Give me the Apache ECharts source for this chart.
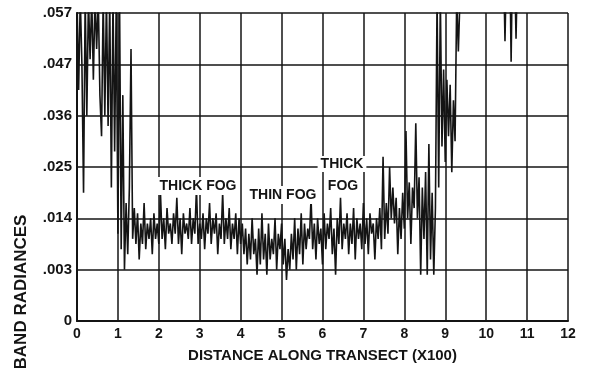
<!DOCTYPE html>
<html>
<head>
<meta charset="utf-8">
<script src="https://cdn.jsdelivr.net/npm/echarts@6/dist/echarts.min.js"></script>
<style>
  html, body { margin: 0; padding: 0; background: #fff; }
  #chart { width: 591px; height: 368px; }
</style>
</head>
<body>
<div id="chart"></div>
<script>
// y axis is drawn in equal bands, one per printed tick label
const yTickLabels = ['0', '.003', '.014', '.025', '.036', '.047', '.057'];
const xTickLabels = ['0', '1', '2', '3', '4', '5', '6', '7', '8', '9', '10', '11', '12'];

// trace sampled every 0.04 along x (hundreds), values in y-axis band units
const STEP = 0.04;
// clear air, off scale at the top
const clearStart = 0.0;
const clearVals = [6.3, 4.5, 6.3, 5.0, 2.5, 6.3, 4.0, 6.3, 5.1, 6.3, 4.7, 6.3,
  5.3, 6.3, 4.4, 3.6, 6.3, 4.0, 6.3, 3.8, 6.3, 2.6, 6.3];
// edge of the fog bank
const edgeStart = 0.92;
const edgeVals = [3.3, 6.3, 1.7, 6.3, 1.4, 4.4, 1.0, 2.3, 1.3, 2.6, 5.3, 1.6, 2.2];
// thick fog
const thickStart = 1.44;
const thickVals = [
  1.5, 2.1, 1.2, 1.9, 1.5, 2.3, 1.4, 1.9,
  1.6, 2.0, 1.3, 2.1, 1.6, 1.9, 1.5, 2.5,
  1.6, 2.0, 1.4, 2.2, 1.7, 1.9, 1.5, 2.1,
  1.7, 2.4, 1.5, 2.0, 1.3, 2.1, 1.7, 1.9,
  1.6, 2.2, 1.5, 2.0, 1.7, 2.6, 1.5, 1.9,
  1.6, 2.1, 1.4, 2.0, 1.7, 2.3, 1.5, 2.0,
  1.7, 2.1, 1.3, 1.9, 1.6, 2.5, 1.5, 2.0,
  1.6, 2.2, 1.4, 1.9, 1.6, 2.1, 1.3, 2.0];
// thin fog
const thinStart = 4.0;
const thinVals = [
  1.5, 1.9, 1.3, 1.8, 1.1, 1.7, 1.2, 2.0,
  1.3, 1.6, 0.9, 1.8, 1.1, 2.1, 1.2, 1.7,
  0.9, 1.9, 1.2, 1.6, 1.3, 2.0, 1.0, 1.7,
  1.4, 1.9, 1.1, 1.6, 0.8, 1.4, 1.0, 1.7,
  1.2, 2.0, 1.0, 1.8, 1.3, 2.1, 1.1, 1.9,
  1.4, 1.8, 1.6];
// thick fog again
const thick2Start = 5.72;
const thick2Vals = [
  2.4, 1.4, 1.9, 1.2, 2.0, 1.5, 1.8, 1.1,
  2.1, 1.4, 1.9, 1.6, 2.2, 1.3, 1.8, 0.9,
  2.0, 1.5, 2.4, 1.4, 1.9, 1.6, 2.1, 1.3,
  1.9, 1.5, 2.2, 1.2, 2.0, 1.6, 1.9, 1.4,
  2.3, 1.5, 2.0, 1.3, 2.1, 1.7, 1.9, 1.2,
  2.0, 1.6, 2.2, 1.4, 3.2];
// broken fog
const brokenStart = 7.52;
const brokenVals = [
  1.6, 2.3, 1.7, 3.0, 2.0, 2.6, 1.9, 2.4,
  1.3, 2.2, 1.6, 2.5, 1.8, 3.7, 2.0, 2.7,
  1.5, 2.6, 2.2, 3.85, 2.0, 2.8, 0.9, 2.6,
  1.6, 2.9, 0.9, 3.45, 1.2, 2.5, 0.9, 2.2];
// leaving the fog
const exitStart = 8.8;
const exitVals = [6.3, 2.6, 6.3, 3.4, 4.9, 3.1, 4.7, 3.6, 4.6, 2.9, 4.3, 3.5, 6.3, 5.25, 6.3];

// short dips near x = 10.5
const dipX = [10.44, 10.46, 10.48, 10.59, 10.61, 10.63, 10.71, 10.73, 10.75];
const dipY = [6.3, 5.45, 6.3, 6.3, 5.05, 6.3, 6.3, 5.5, 6.3];

const segments = [
  [clearStart, clearVals], [edgeStart, edgeVals], [thickStart, thickVals],
  [thinStart, thinVals], [thick2Start, thick2Vals], [brokenStart, brokenVals],
  [exitStart, exitVals]
];
const trace = [];
segments.forEach(([start, vals]) => {
  vals.forEach((v, i) => trace.push([+(start + i * STEP).toFixed(2), v]));
});
const dips = dipX.map((x, i) => [x, dipY[i]]);

const chart = echarts.init(document.getElementById('chart'));
const ink = '#141414';
const labelFont = { color: ink, fontFamily: 'Liberation Sans', fontWeight: 'bold', fontSize: 14 };

const lineStyle = { color: ink, width: 1.6 };

chart.setOption({
  animation: false,
  backgroundColor: '#fff',
  grid: { left: 77, right: 23, top: 13, bottom: 43 },
  xAxis: {
    type: 'value', min: 0, max: 12, interval: 1,
    axisLine: { lineStyle: { color: ink, width: 2 } },
    axisTick: { show: false },
    splitLine: { lineStyle: { color: ink, width: 1.5 } },
    axisLabel: { ...labelFont, margin: 6, formatter: v => xTickLabels[Math.round(v)] },
    name: 'DISTANCE ALONG TRANSECT (X100)',
    nameLocation: 'middle', nameGap: 27,
    nameTextStyle: { ...labelFont, fontSize: 15 }
  },
  yAxis: {
    type: 'value', min: 0, max: 6, interval: 1,
    axisLine: { show: true, lineStyle: { color: ink, width: 2 } },
    axisTick: { show: false },
    splitLine: { lineStyle: { color: ink, width: 1.5 } },
    axisLabel: { ...labelFont, fontSize: 15, margin: 5, formatter: v => yTickLabels[Math.round(v)] }
  },
  graphic: [
    {
      type: 'text', x: 21, y: 292, rotation: Math.PI / 2,
      style: { text: 'BAND RADIANCES', fill: ink, font: 'bold 17px "Liberation Sans"',
        textAlign: 'center', textVerticalAlign: 'middle' }
    },
    {
      type: 'text', x: 198, y: 186, z: 10,
      style: { text: 'THICK FOG', fill: ink, font: 'bold 14px "Liberation Sans"',
        textAlign: 'center', textVerticalAlign: 'middle', backgroundColor: '#fff', padding: [2, 2] }
    },
    {
      type: 'text', x: 283, y: 195, z: 10,
      style: { text: 'THIN FOG', fill: ink, font: 'bold 14px "Liberation Sans"',
        textAlign: 'center', textVerticalAlign: 'middle', backgroundColor: '#fff', padding: [2, 2] }
    },
    {
      type: 'text', x: 342, y: 164, z: 10,
      style: { text: 'THICK', fill: ink, font: 'bold 14px "Liberation Sans"',
        textAlign: 'center', textVerticalAlign: 'middle', backgroundColor: '#fff', padding: [1, 3] }
    },
    {
      type: 'text', x: 343, y: 186, z: 10,
      style: { text: 'FOG', fill: ink, font: 'bold 14px "Liberation Sans"',
        textAlign: 'center', textVerticalAlign: 'middle', backgroundColor: '#fff', padding: [2, 2] }
    }
  ],
  series: [
    { type: 'line', data: trace, showSymbol: false, lineStyle: lineStyle, clip: true },
    { type: 'line', data: dips, showSymbol: false, lineStyle: lineStyle, clip: true }
  ]
});
</script>
</body>
</html>
